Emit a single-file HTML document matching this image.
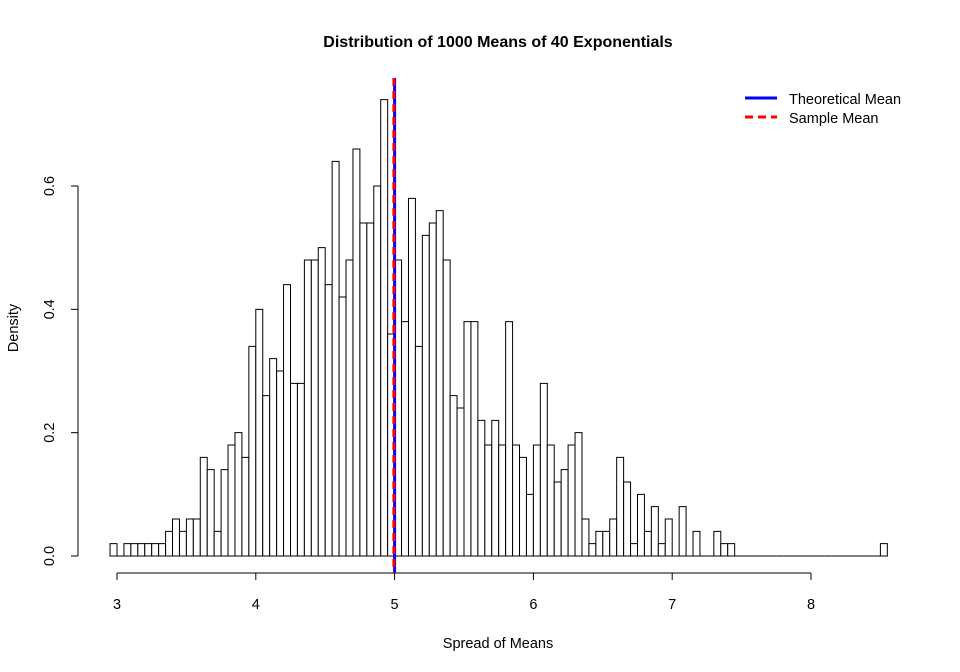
<!DOCTYPE html>
<html><head><meta charset="utf-8"><style>
html,body{margin:0;padding:0;background:#fff;}
svg{display:block;font-family:"Liberation Sans",Arial,sans-serif;}
</style></head><body>
<svg id="chart" width="960" height="672" viewBox="0 0 960 672">
<text x="498" y="47" text-anchor="middle" font-size="16" font-weight="bold">Distribution of 1000 Means of 40 Exponentials</text>
<text x="498" y="648" text-anchor="middle" font-size="14.5">Spread of Means</text>
<text x="18" y="328" text-anchor="middle" font-size="14.5" transform="rotate(-90 18 328)">Density</text>
<g id="bars"></g>
<g id="axes"></g>
<g id="vlines"></g>
<g>
<g>
<line x1="745" y1="98" x2="777" y2="98" stroke="#0000ff" stroke-width="3"/>
<text x="789" y="104" font-size="14.5">Theoretical Mean</text></g>
<g>
<line x1="745" y1="117" x2="777" y2="117" stroke="#ff0000" stroke-width="3" stroke-dasharray="8,5"/>
<text x="789" y="123" font-size="14.5">Sample Mean</text></g>
</g>
</svg>
<script>
const binStart = 2.95;
const binWidth = 0.05;
const densities = [0.02,0,0.02,0.02,0.02,0.02,0.02,0.02,0.04,0.06,0.04,0.06,0.06,0.16,0.14,0.04,0.14,0.18,0.20,0.16,
0.34,0.40,0.26,0.32,0.30,0.44,0.28,0.28,0.48,0.48,0.50,0.44,0.64,0.42,0.48,0.66,0.54,0.54,0.60,0.74,0.36,
0.48,0.38,0.58,0.34,0.52,0.54,0.56,0.48,0.26,0.24,0.38,0.38,0.22,0.18,0.22,0.18,0.38,0.18,0.16,0.10,0.18,
0.28,0.18,0.12,0.14,0.18,0.20,0.06,0.02,0.04,0.04,0.06,0.16,0.12,0.02,0.10,0.04,0.08,0.02,0.06,0,0.08,0,0.04,0,0,0.04,0.02,0.02,
0,0,0,0,0,0,0,0,0,0,0,0,0,0,0,0,0,0,0,0,0,0.02];
const xTicks = [3,4,5,6,7,8];
const yTicks = [0,0.2,0.4,0.6];
const yTickLabels = ["0.0","0.2","0.4","0.6"];
const theoreticalMean = 5;
const sampleMean = 4.995;

const NS = "http://www.w3.org/2000/svg";
const xs = v => 117 + (v - 3) * (811 - 117) / 5;
const ys = v => 556 - v * (556 - 186) / 0.6;
function mk(tag, attrs, parent){const e=document.createElementNS(NS,tag);for(const k in attrs)e.setAttribute(k,attrs[k]);parent.appendChild(e);return e;}

const bars = document.getElementById('bars');
densities.forEach((d,i)=>{
  const x0 = xs(binStart + i*binWidth), x1 = xs(binStart + (i+1)*binWidth);
  const y0 = ys(0), y1 = ys(d);
  const p = mk('path',{d:`M${x0},${y0}L${x0},${y1}L${x1},${y1}L${x1},${y0}Z`,fill:'#fff',stroke:'#000','stroke-width':1},bars);
  
  
});

const axes = document.getElementById('axes');
mk('line',{x1:xs(3),y1:573,x2:xs(8),y2:573,stroke:'#000'},axes);
xTicks.forEach(t=>{
  mk('line',{x1:xs(t),y1:573,x2:xs(t),y2:580,stroke:'#000'},axes);
  const tx = mk('text',{x:xs(t),y:609,'text-anchor':'middle','font-size':14.5},axes);
  tx.textContent = t;
  
  
});
mk('line',{x1:78,y1:ys(0),x2:78,y2:ys(0.6),stroke:'#000'},axes);
yTicks.forEach((t,i)=>{
  mk('line',{x1:71,y1:ys(t),x2:78,y2:ys(t),stroke:'#000'},axes);
  const tx = mk('text',{x:54,y:ys(t),'text-anchor':'middle','font-size':14.5,transform:`rotate(-90 54 ${ys(t)})`},axes);
  tx.textContent = yTickLabels[i];
  
  
});

const vl = document.getElementById('vlines');
const b = mk('line',{x1:xs(theoreticalMean),y1:78,x2:xs(theoreticalMean),y2:573,stroke:'#0000ff','stroke-width':3},vl);


const r = mk('line',{x1:xs(sampleMean),y1:78,x2:xs(sampleMean),y2:573,stroke:'#ff0000','stroke-width':3,'stroke-dasharray':'8,5'},vl);


</script>
</body></html>
